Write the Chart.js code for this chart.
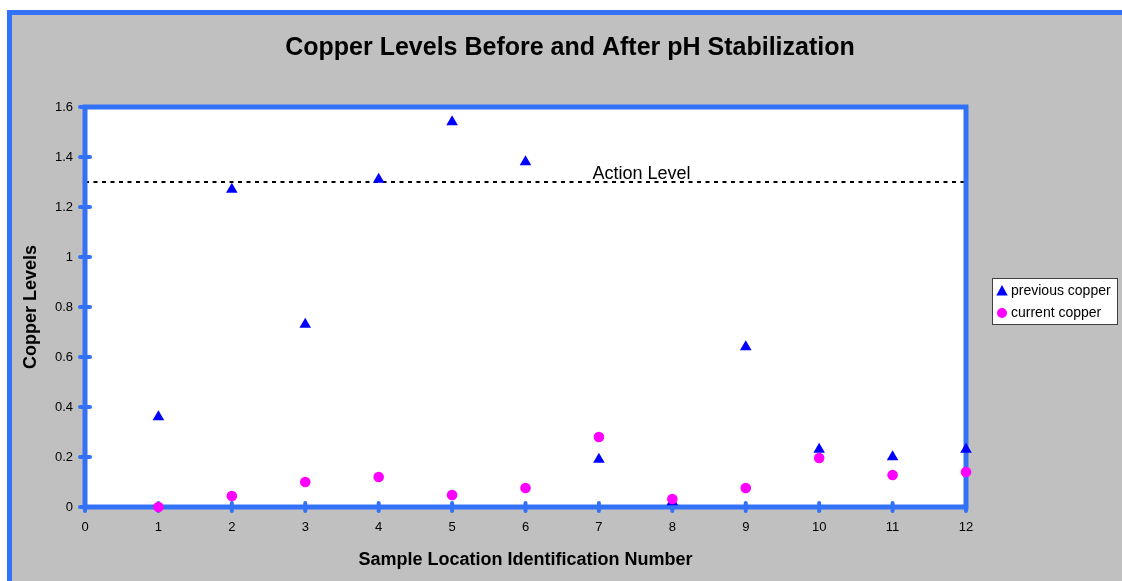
<!DOCTYPE html>
<html>
<head>
<meta charset="utf-8">
<title>Copper Levels Before and After pH Stabilization</title>
<script src="https://cdn.jsdelivr.net/npm/chart.js@4.4.1/dist/chart.umd.min.js"></script>
<style>
  html, body { margin: 0; padding: 0; background: #fff; }
  #wrap { width: 1122px; height: 581px; }
</style>
</head>
<body>
<div id="wrap"><canvas id="copperChart" width="1122" height="581"></canvas></div>
<script>
// Sample locations and measured copper (mg/L)
const locations = [1, 2, 3, 4, 5, 6, 7, 8, 9, 10, 11, 12];
const previousCopper = [0.36, 1.27, 0.73, 1.31, 1.54, 1.38, 0.19, 0.02, 0.64, 0.23, 0.20, 0.23];
const currentCopper = [0.00, 0.044, 0.10, 0.12, 0.048, 0.076, 0.28, 0.032, 0.076, 0.196, 0.128, 0.14];

const xTicks = [0, 1, 2, 3, 4, 5, 6, 7, 8, 9, 10, 11, 12];
const yTicks = [0, 0.2, 0.4, 0.6, 0.8, 1, 1.2, 1.4, 1.6];
const yTickLabels = ['0', '0.2', '0.4', '0.6', '0.8', '1', '1.2', '1.4', '1.6'];

const actionLevel = 1.3;
const actionLabel = 'Action Level';

const BLUE = '#3372F7';
const FONT = '"Liberation Sans", Arial, Helvetica, sans-serif';
Chart.defaults.font.family = FONT;

function toPoints(values) {
    return locations.map((x, i) => ({ x: x, y: values[i] }));
}

function drawMarker(ctx, style, x, y, r, color) {
    ctx.fillStyle = color;
    ctx.beginPath();
    if (style === 'triangle') {
        ctx.moveTo(x, y - r);
        ctx.lineTo(x + r * 0.95, y + r * 0.75);
        ctx.lineTo(x - r * 0.95, y + r * 0.75);
        ctx.closePath();
    } else {
        ctx.arc(x, y, r, 0, Math.PI * 2);
    }
    ctx.fill();
}

// Backdrop, plot frame, tick marks, action level line, titles and legend
const excelLook = {
    id: 'excelLook',
    beforeDraw(chart) {
        const { ctx, width, height, chartArea: a } = chart;
        ctx.save();
        ctx.fillStyle = '#fff';
        ctx.fillRect(0, 0, width, height);
        ctx.fillStyle = '#c0c0c0';
        ctx.fillRect(9.5, 12.5, width, height);
        ctx.strokeStyle = BLUE;
        ctx.lineWidth = 5;
        ctx.beginPath();
        ctx.moveTo(9.5, height + 10);
        ctx.lineTo(9.5, 12.5);
        ctx.lineTo(width + 10, 12.5);
        ctx.stroke();
        ctx.fillStyle = '#fff';
        ctx.fillRect(a.left, a.top, a.right - a.left, a.bottom - a.top);

        ctx.fillStyle = '#000';
        ctx.textAlign = 'center';
        ctx.textBaseline = 'middle';
        ctx.font = 'bold 25px ' + FONT;
        ctx.fillText('Copper Levels Before and After pH Stabilization', 570, 48);
        ctx.font = 'bold 18px ' + FONT;
        ctx.fillText('Sample Location Identification Number', (a.left + a.right) / 2, 560);
        ctx.translate(31, (a.top + a.bottom) / 2);
        ctx.rotate(-Math.PI / 2);
        ctx.fillText('Copper Levels', 0, 0);
        ctx.restore();
    },
    beforeDatasetsDraw(chart) {
        const { ctx, chartArea: a, scales } = chart;
        const x = scales.x, y = scales.y;
        ctx.save();

        // action level
        const ay = y.getPixelForValue(actionLevel);
        ctx.strokeStyle = '#000';
        ctx.lineWidth = 2;
        ctx.setLineDash([4, 4.5]);
        ctx.beginPath();
        ctx.moveTo(a.left, ay);
        ctx.lineTo(a.right, ay);
        ctx.stroke();
        ctx.setLineDash([]);
        ctx.fillStyle = '#000';
        ctx.font = '18px ' + FONT;
        ctx.textAlign = 'center';
        ctx.textBaseline = 'alphabetic';
        ctx.fillText(actionLabel, x.getPixelForValue(7.58), ay - 3);

        // frame
        ctx.strokeStyle = BLUE;
        ctx.lineWidth = 5;
        ctx.strokeRect(a.left, a.top, a.right - a.left, a.bottom - a.top);

        // tick marks crossing the axes
        ctx.lineWidth = 4;
        ctx.lineCap = 'round';
        ctx.beginPath();
        yTicks.forEach(v => {
            const py = y.getPixelForValue(v);
            ctx.moveTo(a.left - 5, py);
            ctx.lineTo(a.left + 5, py);
        });
        xTicks.forEach(v => {
            const px = x.getPixelForValue(v);
            ctx.moveTo(px, a.bottom - 4);
            ctx.lineTo(px, a.bottom + 4);
        });
        ctx.stroke();
        ctx.restore();
    },
    afterDraw(chart) {
        const { ctx } = chart;
        ctx.save();
        ctx.fillStyle = '#fff';
        ctx.fillRect(992.5, 278.5, 125, 46);
        ctx.strokeStyle = '#404040';
        ctx.lineWidth = 1;
        ctx.strokeRect(992.5, 278.5, 125, 46);
        ctx.font = '14px ' + FONT;
        ctx.textAlign = 'left';
        ctx.textBaseline = 'middle';
        const items = chart.data.datasets;
        items.forEach((ds, i) => {
            const cy = 291 + i * 22;
            drawMarker(ctx, ds.pointStyle, 1002, cy, ds.pointStyle === 'triangle' ? 6 : 5, ds.backgroundColor);
            ctx.fillStyle = '#000';
            ctx.fillText(ds.label, 1011, cy);
        });
        ctx.restore();
    }
};

new Chart(document.getElementById('copperChart'), {
    type: 'scatter',
    data: {
        datasets: [
            {
                label: 'previous copper',
                data: toPoints(previousCopper),
                pointStyle: 'triangle',
                pointRadius: 6.7,
                pointHoverRadius: 6.7,
                backgroundColor: '#0000ff',
                borderColor: '#0000ff',
                borderWidth: 0,
                clip: false,
                order: 1
            },
            {
                label: 'current copper',
                data: toPoints(currentCopper),
                pointStyle: 'circle',
                pointRadius: 5.3,
                pointHoverRadius: 5.3,
                backgroundColor: '#ff00ff',
                borderColor: '#ff00ff',
                borderWidth: 0,
                clip: false,
                order: 0
            }
        ]
    },
    options: {
        responsive: false,
        animation: false,
        layout: { padding: { left: 0, top: 107, right: 156, bottom: 0 } },
        plugins: {
            legend: { display: false },
            title: { display: false },
            tooltip: { enabled: false }
        },
        scales: {
            x: {
                type: 'linear',
                min: 0,
                max: 12,
                afterFit: s => { s.height = 74; },
                afterBuildTicks: s => { s.ticks = xTicks.map(v => ({ value: v })); },
                grid: { display: false, drawTicks: false },
                border: { display: false },
                ticks: { color: '#000', font: { size: 13 }, padding: 13, maxRotation: 0, autoSkip: false }
            },
            y: {
                type: 'linear',
                min: 0,
                max: 1.6,
                afterFit: s => { s.width = 85; },
                afterBuildTicks: s => { s.ticks = yTicks.map(v => ({ value: v })); },
                grid: { display: false, drawTicks: false },
                border: { display: false },
                ticks: {
                    color: '#000',
                    font: { size: 13 },
                    padding: 12,
                    autoSkip: false,
                    callback: (v, i) => yTickLabels[i]
                }
            }
        }
    },
    plugins: [excelLook]
});
</script>
</body>
</html>
